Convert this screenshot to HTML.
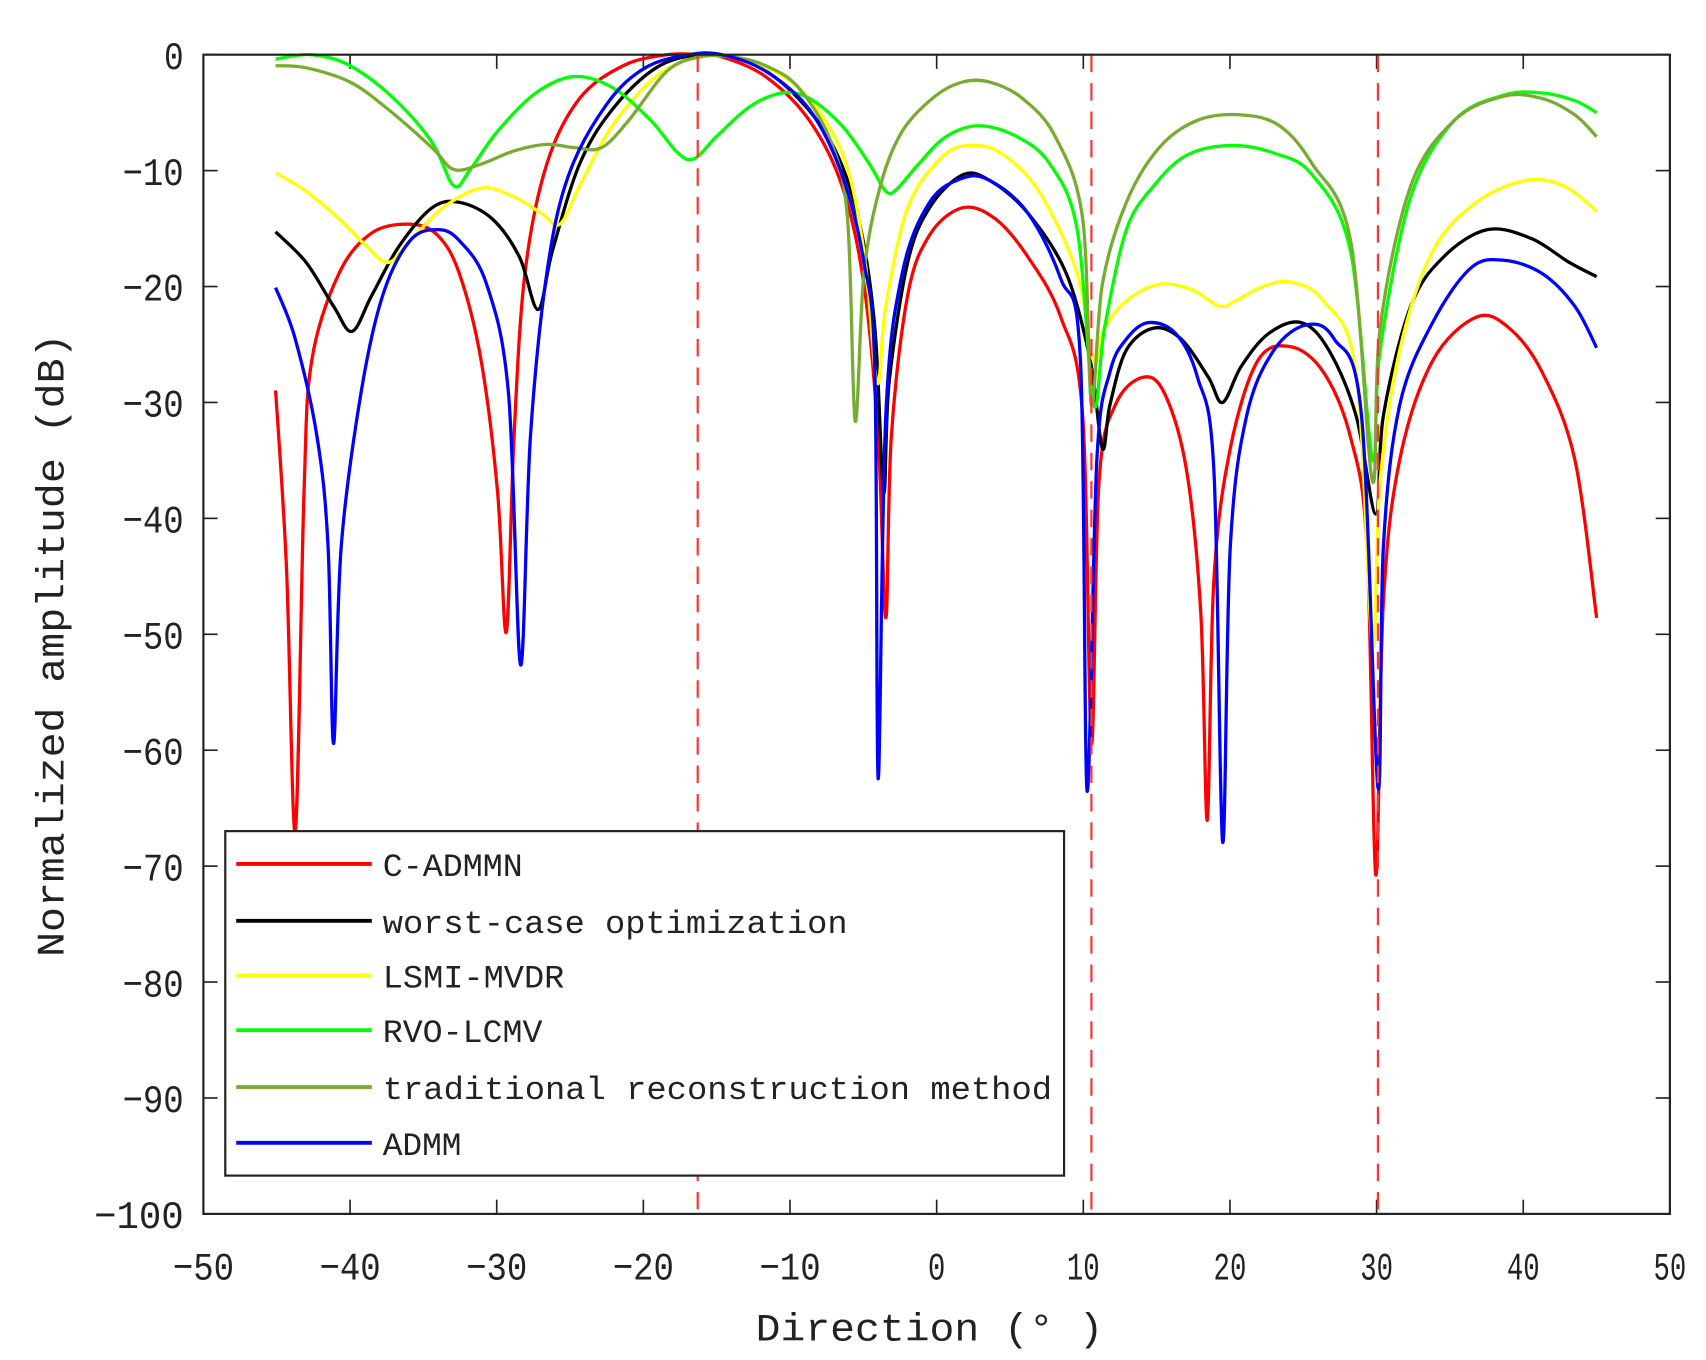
<!DOCTYPE html>
<html><head><meta charset="utf-8"><style>
html,body{margin:0;padding:0;background:#fff;}
svg{display:block;}
text{font-family:"Liberation Mono","DejaVu Sans Mono",monospace;fill:#222;}
</style></head><body>
<svg id="s" width="1706" height="1360" viewBox="0 0 1560 1243.6" xmlns="http://www.w3.org/2000/svg">
<rect x="0" y="0" width="1560" height="1244" fill="#fff"/>
<g id="ticks" stroke="#222" stroke-width="1.5"></g>
<g id="labels" font-size="36"></g>
<g id="curves" fill="none" stroke-width="3" stroke-linejoin="round"></g>
<g stroke="#ff3333" stroke-width="2" stroke-dasharray="16,10">
<line x1="638" y1="50" x2="638" y2="1110"/>
<line x1="998" y1="50" x2="998" y2="1110"/>
<line x1="1260" y1="50" x2="1260" y2="1110"/>
</g>
<rect x="186" y="50" width="1341" height="1060" fill="none" stroke="#222" stroke-width="2"/>
<rect x="206" y="760" width="767" height="315" fill="#fff" stroke="#222" stroke-width="2"/>
<g stroke-width="3.5">
<line x1="216" y1="790" x2="340" y2="790" stroke="#ff0000"/>
<line x1="216" y1="842" x2="340" y2="842" stroke="#000"/>
<line x1="216" y1="892" x2="340" y2="892" stroke="#ffff00"/>
<line x1="216" y1="942" x2="340" y2="942" stroke="#00ff00"/>
<line x1="216" y1="994" x2="340" y2="994" stroke="#77ac30"/>
<line x1="216" y1="1045" x2="340" y2="1045" stroke="#0000ff"/>
</g>
<g font-size="30">
<text x="350" y="801" textLength="128" lengthAdjust="spacingAndGlyphs">C-ADMMN</text>
<text x="350" y="853" textLength="425" lengthAdjust="spacingAndGlyphs">worst-case optimization</text>
<text x="350" y="903" textLength="166" lengthAdjust="spacingAndGlyphs">LSMI-MVDR</text>
<text x="350" y="953" textLength="146" lengthAdjust="spacingAndGlyphs">RVO-LCMV</text>
<text x="350" y="1005" textLength="612" lengthAdjust="spacingAndGlyphs">traditional reconstruction method</text>
<text x="350" y="1056" textLength="72" lengthAdjust="spacingAndGlyphs">ADMM</text>
</g>
<text x="850" y="1226" font-size="36" text-anchor="middle" textLength="318" lengthAdjust="spacingAndGlyphs">Direction (° )</text>
<text transform="translate(58,590) rotate(-90)" font-size="36" text-anchor="middle" textLength="570" lengthAdjust="spacingAndGlyphs">Normalized amplitude (dB)</text>
</svg>
<script>
var NS="http://www.w3.org/2000/svg";
function el(p,t,a,txt){var e=document.createElementNS(NS,t);for(var k in a)e.setAttribute(k,a[k]);if(txt!==undefined)e.textContent=txt;document.getElementById(p).appendChild(e);}
for(var i=0;i<=10;i++){var x=186+i*134.1;
 el("ticks","line",{x1:x,y1:1110,x2:x,y2:1097});el("ticks","line",{x1:x,y1:50,x2:x,y2:63});
 el("labels","text",{x:x,y:1170,"text-anchor":"middle",textLength:(i==5?16:(i>5?30:56)),lengthAdjust:"spacingAndGlyphs"},(i<5?"\u2212":"")+String(Math.abs(-50+i*10)));}
for(var j=0;j<=10;j++){var y=50+j*106;
 el("ticks","line",{x1:186,y1:y,x2:199,y2:y});el("ticks","line",{x1:1527,y1:y,x2:1514,y2:y});
 var s=j==0?"0":String(-j*10);
 el("labels","text",{x:168,y:y+13,"text-anchor":"end",textLength:(j==0?18:(j==10?82:56)),lengthAdjust:"spacingAndGlyphs"},s.replace("-","\u2212"));}
function path(pts){var d="M"+pts[0][0]+","+pts[0][1];
 for(var i=0;i<pts.length-1;i++){var p0=pts[i>0?i-1:i],p1=pts[i],p2=pts[i+1],p3=pts[i+2<pts.length?i+2:i+1];
  var t=6;var c1=[p1[0]+(p2[0]-p0[0])/t,p1[1]+(p2[1]-p0[1])/t],c2=[p2[0]-(p3[0]-p1[0])/t,p2[1]-(p3[1]-p1[1])/t];
  d+=" C"+c1[0].toFixed(1)+","+c1[1].toFixed(1)+" "+c2[0].toFixed(1)+","+c2[1].toFixed(1)+" "+p2[0]+","+p2[1];}
 return d;}
var C={
"#ff0000":[[252,357],[262,520],[270,760],[278,450],[285,330],[310,250],[340,213],[375,205],[400,215],[420,250],[440,330],[455,450],[463,578],[470,400],[480,250],[500,150],[530,90],[570,60],[610,50],[640,50],[660,52],[700,70],[740,110],[770,170],[790,260],[803,400],[810,565],[815,400],[830,270],[850,215],[880,190],[910,200],[940,235],[970,290],[990,380],[998,680],[1005,440],[1020,370],[1045,345],[1065,360],[1085,430],[1098,560],[1104,750],[1110,530],[1125,410],[1150,330],[1180,317],[1210,340],[1235,400],[1250,500],[1258,800],[1265,550],[1280,420],[1310,330],[1350,290],[1380,300],[1410,340],[1440,420],[1460,565]],
"#000000":[[252,212],[280,240],[305,280],[322,303],[340,270],[365,225],[395,190],[420,185],[450,200],[475,235],[492,283],[505,230],[530,150],[560,100],[600,62],[640,50],[680,55],[720,80],[760,130],[785,200],[800,300],[808,450],[813,350],[830,240],[850,190],[880,160],[905,165],[940,195],[975,250],[997,330],[1008,410],[1015,370],[1030,320],[1055,300],[1080,310],[1105,345],[1118,368],[1135,335],[1160,305],[1190,295],[1215,320],[1240,380],[1258,470],[1265,380],[1290,280],[1320,235],[1360,210],[1400,218],[1435,240],[1460,253]],
"#ffff00":[[252,158],[280,175],[310,200],[335,225],[355,240],[375,220],[405,190],[440,172],[470,180],[495,195],[512,205],[530,170],[560,115],[600,70],[640,52],[680,55],[730,80],[770,140],[790,230],[802,350],[810,280],[830,190],[860,145],[885,133],[915,140],[950,175],[985,250],[1000,330],[1010,300],[1030,275],[1060,260],[1090,265],[1115,280],[1130,275],[1155,262],[1180,258],[1210,275],[1240,340],[1255,590],[1262,440],[1280,320],[1310,230],[1350,185],[1395,165],[1430,170],[1460,193]],
"#00ff00":[[252,54],[285,50],[320,60],[360,90],[395,130],[415,170],[430,155],[455,120],[490,85],[525,70],[560,80],[595,110],[620,140],[635,145],[655,125],[685,98],[715,85],[740,90],[770,115],[795,150],[810,175],[820,173],[840,150],[865,125],[895,115],[930,125],[960,150],[985,210],[1000,370],[1010,300],[1030,210],[1055,170],[1085,142],[1125,133],[1165,140],[1200,160],[1235,230],[1255,420],[1262,320],[1290,180],[1330,110],[1375,87],[1410,85],[1440,92],[1460,103]],
"#77ac30":[[252,60],[280,62],[320,75],[355,100],[395,135],[415,155],[440,150],[470,138],[500,132],[525,135],[550,135],[575,110],[610,65],[640,52],[670,52],[700,60],[730,80],[760,130],[775,200],[782,385],[790,250],[805,170],[825,120],[855,88],[880,75],[905,75],[935,90],[965,125],[990,200],[998,370],[1008,260],[1030,185],[1060,135],[1095,110],[1135,105],[1170,115],[1200,150],[1235,220],[1255,440],[1262,300],[1290,170],[1330,110],[1375,88],[1410,90],[1440,105],[1460,125]],
"#0000ff":[[252,263],[270,310],[290,400],[300,500],[305,680],[312,500],[330,360],[350,270],[375,220],[400,210],[420,220],[445,260],[465,360],[476,608],[485,400],[500,250],[520,160],[555,95],[590,62],[630,50],[660,50],[700,65],[740,100],[770,160],[790,240],[800,340],[803,712],[810,380],[825,250],[850,185],[880,163],[905,165],[940,195],[970,255],[988,330],[994,723],[1003,420],[1015,340],[1030,310],[1050,295],[1075,305],[1095,345],[1110,430],[1118,770],[1125,500],[1140,380],[1165,320],[1195,297],[1220,310],[1245,380],[1260,720],[1265,500],[1280,370],[1310,295],[1345,245],[1375,238],[1410,250],[1440,280],[1460,318]]};
for(var c in C)el("curves","path",{d:path(C[c]),stroke:c});
</script>
</body></html>
